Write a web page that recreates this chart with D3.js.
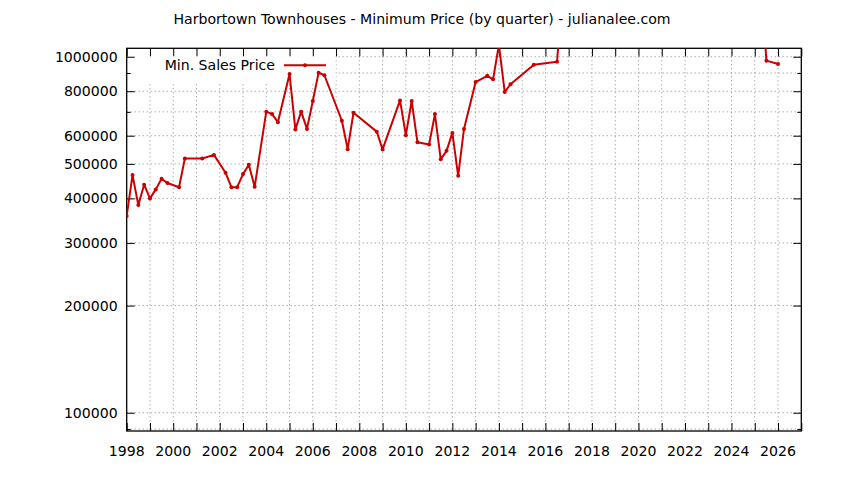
<!DOCTYPE html>
<html>
<head>
<meta charset="utf-8">
<script src="https://cdn.jsdelivr.net/npm/d3@7"></script>
<style>
  body { margin: 0; background: #fff; }
  text { font-family: "DejaVu Sans", sans-serif; font-size: 14.1px; fill: #000; }
</style>
</head>
<body>
<svg width="844" height="480"></svg>
<script>
// quarter (decimal year) and minimum sale price
var quarters = [1998.0, 1998.25, 1998.5, 1998.75, 1999.0, 1999.25, 1999.5, 1999.75,
  2000.25, 2000.5, 2001.25, 2001.75, 2002.25, 2002.5, 2002.75, 2003.0, 2003.25, 2003.5,
  2004.0, 2004.25, 2004.5, 2005.0, 2005.25, 2005.5, 2005.75, 2006.0, 2006.25, 2006.5,
  2007.25, 2007.5, 2007.75, 2008.75, 2009.0, 2009.75, 2010.0, 2010.25, 2010.5,
  2011.0, 2011.25, 2011.5, 2011.75, 2012.0, 2012.25, 2012.5, 2013.0, 2013.5, 2013.75,
  2014.0, 2014.25, 2014.5, 2015.5, 2016.5, 2016.75, 2025.25, 2025.5, 2026.0];
var minPrice = [357000, 465000, 383000, 437000, 400000, 424000, 454000, 442000,
  430000, 518000, 518000, 530000, 472000, 430000, 430000, 468000, 497000, 431000,
  701000, 690000, 655000, 894000, 625000, 701000, 627000, 751000, 902000, 887000,
  661000, 550000, 696000, 616000, 549000, 754000, 602000, 751000, 575000,
  567000, 690000, 515000, 544000, 611000, 463000, 627000, 849000, 884000, 864000,
  1080000, 796000, 837000, 950000, 968000, 1600000, 1700000, 975000, 954000];

var seriesName = "Min. Sales Price";
var title = "Harbortown Townhouses - Minimum Price (by quarter) - julianalee.com";
var yLabeled = [100000, 200000, 300000, 400000, 500000, 600000, 800000, 1000000];
var yMinor = [90000, 700000, 900000];
var xLabeled = d3.range(1998, 2027, 2);
var xYears = d3.range(1998, 2028);

var svg = d3.select('svg');
var pLeft = 126.7, pRight = 801.3, pTop = 48.3, pBottom = 431;

var x = d3.scaleLinear().domain([1998, 2027]).range([pLeft, pRight]);
var y = d3.scaleLog().domain([88860, 1056000]).range([pBottom, pTop]);

var grid = svg.append('g')
  .attr('stroke', '#888')
  .attr('stroke-width', 1)
  .attr('stroke-dasharray', '1,3');

grid.selectAll('.gx').data(xYears.filter(d => d > 1998 && d < 2027)).enter()
  .append('line')
  .attr('x1', d => x(d)).attr('x2', d => x(d))
  .attr('y1', pTop).attr('y2', pBottom);

grid.selectAll('.gy').data(yLabeled.concat(yMinor)).enter()
  .append('line')
  .attr('x1', pLeft).attr('x2', pRight)
  .attr('y1', d => y(d)).attr('y2', d => y(d));

// legend box hides the grid behind it
svg.append('rect')
  .attr('x', pLeft + 1).attr('y', pTop + 1)
  .attr('width', 208).attr('height', 33)
  .attr('fill', '#fff');

// axes, mirrored on the opposite sides
var axes = svg.append('g');
axes.append('g')
  .attr('transform', 'translate(0,' + pBottom + ')')
  .call(d3.axisBottom(x).tickValues(xYears).tickSize(-8).tickFormat(''));
axes.append('g')
  .attr('transform', 'translate(0,' + pTop + ')')
  .call(d3.axisTop(x).tickValues(xYears).tickSize(-8).tickFormat(''));
axes.append('g')
  .attr('transform', 'translate(' + pLeft + ',0)')
  .call(d3.axisLeft(y).tickValues(yLabeled).tickSize(-8).tickFormat(''));
axes.append('g')
  .attr('transform', 'translate(' + pLeft + ',0)')
  .call(d3.axisLeft(y).tickValues(yMinor).tickSize(-4).tickFormat(''));
axes.append('g')
  .attr('transform', 'translate(' + pRight + ',0)')
  .call(d3.axisRight(y).tickValues(yLabeled).tickSize(-8).tickFormat(''));
axes.append('g')
  .attr('transform', 'translate(' + pRight + ',0)')
  .call(d3.axisRight(y).tickValues(yMinor).tickSize(-4).tickFormat(''));
axes.selectAll('.domain').remove();
axes.selectAll('line').attr('stroke', '#000');

svg.append('rect')
  .attr('x', pLeft).attr('y', pTop)
  .attr('width', pRight - pLeft).attr('height', pBottom - pTop)
  .attr('fill', 'none').attr('stroke', '#000').attr('stroke-width', 1.3);

svg.selectAll('.ylab').data(yLabeled).enter()
  .append('text')
  .attr('x', pLeft - 9).attr('y', d => y(d))
  .attr('dy', '0.36em')
  .attr('text-anchor', 'end')
  .text(d => d);

svg.selectAll('.xlab').data(xLabeled).enter()
  .append('text')
  .attr('x', d => x(d)).attr('y', 456)
  .attr('text-anchor', 'middle')
  .text(d => d);

svg.append('text')
  .attr('x', 422).attr('y', 24)
  .attr('text-anchor', 'middle')
  .text(title);

svg.append('clipPath').attr('id', 'plot')
  .append('rect')
  .attr('x', pLeft).attr('y', pTop)
  .attr('width', pRight - pLeft).attr('height', pBottom - pTop);

var pts = quarters.map((q, i) => [q, minPrice[i]]);
var red = '#cc0000';

var series = svg.append('g').attr('clip-path', 'url(#plot)');
series.append('path')
  .datum(pts)
  .attr('fill', 'none')
  .attr('stroke', red)
  .attr('stroke-width', 2)
  .attr('stroke-linejoin', 'round')
  .attr('d', d3.line().x(d => x(d[0])).y(d => y(d[1])));
series.selectAll('circle').data(pts).enter()
  .append('circle')
  .attr('cx', d => x(d[0])).attr('cy', d => y(d[1]))
  .attr('r', 2)
  .attr('fill', red);

// legend
svg.append('text')
  .attr('x', 275).attr('y', 70)
  .attr('text-anchor', 'end')
  .text(seriesName);
svg.append('line')
  .attr('x1', 284).attr('x2', 326)
  .attr('y1', 65.3).attr('y2', 65.3)
  .attr('stroke', red).attr('stroke-width', 2);
svg.append('circle')
  .attr('cx', 305).attr('cy', 65.3).attr('r', 2)
  .attr('fill', red);
</script>
</body>
</html>
